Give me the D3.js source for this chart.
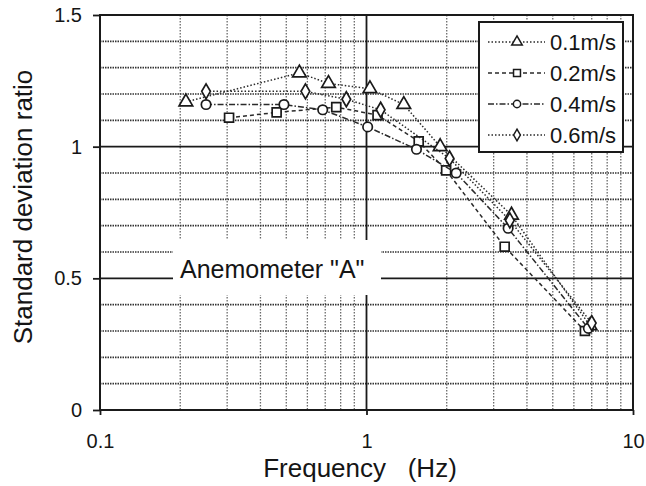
<!DOCTYPE html>
<head>
  <meta charset="utf-8">
  <script src="https://unpkg.com/d3@7/dist/d3.min.js"></script>
  <style>
    body {
      margin:0;
      background:#fff;
    }
    text {
      font-family: "Liberation Sans", Arial, sans-serif;
      fill: #151515;
    }
  </style>
</head>

<body>
  <svg width="646" height="486"></svg>
  <script>
    // values
    var seriesNames = ["0.1m/s", "0.2m/s", "0.4m/s", "0.6m/s"];
    var freq01  = [0.21, 0.56, 0.72, 1.03, 1.38, 1.89, 3.5, 6.9];
    var ratio01 = [1.17, 1.28, 1.24, 1.22, 1.16, 1.00, 0.74, 0.32];
    var freq02  = [0.305, 0.46, 0.77, 1.10, 1.57, 1.99, 3.3, 6.6];
    var ratio02 = [1.11, 1.13, 1.15, 1.12, 1.02, 0.91, 0.62, 0.30];
    var freq04  = [0.25, 0.49, 0.685, 1.01, 1.54, 2.17, 3.4, 6.8];
    var ratio04 = [1.16, 1.16, 1.14, 1.075, 0.99, 0.90, 0.69, 0.31];
    var freq06  = [0.25, 0.59, 0.84, 1.13, 2.05, 3.45, 7.0];
    var ratio06 = [1.21, 1.21, 1.18, 1.14, 0.955, 0.72, 0.33];
    var yTicks = [0, 0.5, 1, 1.5];
    var xTicks = [0.1, 1, 10];
    var xTickLabels = ["0.1", "1", "10"];

    var series = [
      {name: seriesNames[0], f: freq01, r: ratio01, sym: d3.symbolTriangle, size: 80, dash: "1.5,2"},
      {name: seriesNames[1], f: freq02, r: ratio02, sym: d3.symbolSquare, size: 80, dash: "4,3"},
      {name: seriesNames[2], f: freq04, r: ratio04, sym: d3.symbolCircle, size: 70, dash: "6,2,1.5,2"},
      {name: seriesNames[3], f: freq06, r: ratio06, sym: d3.symbolDiamond, size: 65, dash: "1.5,2"}
    ];

    var svg = d3.select("svg");
    // plot box (note: "top" is taken by window.top)
    var pLeft = 100, pRight = 633, pTop = 15, pBottom = 410;

    var x = d3.scaleLog().domain([0.1, 10]).range([pLeft, pRight]);
    var y = d3.scaleLinear().domain([0, 1.5]).range([pBottom, pTop]);

    // grid
    var minorY = d3.range(1, 15).map(function (i) { return i / 10; })
      .filter(function (v) { return Math.abs(v - 0.5) > 1e-6 && Math.abs(v - 1) > 1e-6; });
    var minorX = [];
    [0.1, 1].forEach(function (d) {
      for (var k = 2; k <= 9; k++) minorX.push(d * k);
    });

    svg.append("g").selectAll("line").data(minorX).enter().append("line")
      .attr("x1", function (d) { return x(d); }).attr("x2", function (d) { return x(d); })
      .attr("y1", pTop).attr("y2", pBottom)
      .attr("stroke", "#6a6a6a").attr("stroke-width", 1.3).attr("stroke-dasharray", "1.5,1.5");

    svg.append("g").selectAll("line").data(minorY).enter().append("line")
      .attr("x1", pLeft).attr("x2", pRight)
      .attr("y1", function (d) { return y(d); }).attr("y2", function (d) { return y(d); })
      .attr("stroke", "#333").attr("stroke-width", 1.7).attr("stroke-dasharray", "1.5,1");

    svg.append("g").selectAll("line").data([0.5, 1]).enter().append("line")
      .attr("x1", pLeft).attr("x2", pRight)
      .attr("y1", function (d) { return y(d); }).attr("y2", function (d) { return y(d); })
      .attr("stroke", "#1a1a1a").attr("stroke-width", 1.8);

    svg.append("line")
      .attr("x1", x(1)).attr("x2", x(1)).attr("y1", pTop).attr("y2", pBottom)
      .attr("stroke", "#1a1a1a").attr("stroke-width", 1.8);

    // frame
    svg.append("rect")
      .attr("x", pLeft).attr("y", pTop)
      .attr("width", pRight - pLeft).attr("height", pBottom - pTop)
      .attr("fill", "none").attr("stroke", "#1a1a1a").attr("stroke-width", 2);

    // axes
    var yAxis = d3.axisLeft(y).tickValues(yTicks).tickSize(7).tickPadding(11)
      .tickFormat(function (d) { return d3.format("")(d); });
    svg.append("g").attr("transform", "translate(" + pLeft + ",0)").call(yAxis)
      .call(function (g) {
        g.select(".domain").remove();
        g.selectAll("line").attr("stroke", "#1a1a1a").attr("stroke-width", 1.8);
        g.selectAll("text").attr("font-size", 20).style("font-family", "Liberation Sans, Arial");
      });

    var xAxis = d3.axisBottom(x).tickValues(xTicks).tickSize(5).tickPadding(19)
      .tickFormat(function (d, i) { return xTickLabels[i]; });
    svg.append("g").attr("transform", "translate(0," + pBottom + ")").call(xAxis)
      .call(function (g) {
        g.select(".domain").remove();
        g.selectAll("line").attr("stroke", "#1a1a1a").attr("stroke-width", 1.8);
        g.selectAll("text").attr("font-size", 20).style("font-family", "Liberation Sans, Arial");
      });

    // label box on the 0.5 line
    svg.append("rect")
      .attr("x", 173).attr("y", 240).attr("width", 208).attr("height", 55)
      .attr("fill", "#fff");
    svg.append("text")
      .attr("x", 180).attr("y", y(0.5))
      .attr("font-size", 25)
      .text("Anemometer \"A\"");

    // series
    var line = d3.line()
      .x(function (d) { return x(d[0]); })
      .y(function (d) { return y(d[1]); });

    series.forEach(function (s) {
      var pts = s.f.map(function (f, i) { return [f, s.r[i]]; });
      svg.append("path")
        .datum(pts)
        .attr("d", line)
        .attr("fill", "none")
        .attr("stroke", "#2a2a2a")
        .attr("stroke-width", 1.5)
        .attr("stroke-dasharray", s.dash);
      svg.append("g").selectAll("path").data(pts).enter().append("path")
        .attr("transform", function (d) { return "translate(" + x(d[0]) + "," + y(d[1]) + ")"; })
        .attr("d", d3.symbol().type(s.sym).size(s.size))
        .attr("fill", "#fff")
        .attr("stroke", "#1a1a1a")
        .attr("stroke-width", 1.7);
    });

    // legend
    var legend = svg.append("g");
    legend.append("rect")
      .attr("x", 479).attr("y", 22).attr("width", 144).attr("height", 130)
      .attr("fill", "#fff").attr("stroke", "#1a1a1a").attr("stroke-width", 2);
    series.forEach(function (s, i) {
      var ly = 42 + i * 31;
      legend.append("line")
        .attr("x1", 488).attr("x2", 545).attr("y1", ly).attr("y2", ly)
        .attr("stroke", "#2a2a2a").attr("stroke-width", 1.5)
        .attr("stroke-dasharray", s.dash);
      legend.append("path")
        .attr("transform", "translate(517," + ly + ")")
        .attr("d", d3.symbol().type(s.sym).size(s.size * 0.6))
        .attr("fill", "#fff").attr("stroke", "#1a1a1a").attr("stroke-width", 1.5);
      legend.append("text")
        .attr("x", 550).attr("y", ly).attr("dy", "0.36em")
        .attr("font-size", 22)
        .text(s.name);
    });

    // axis titles
    svg.append("text")
      .attr("x", 360).attr("y", 477)
      .attr("text-anchor", "middle")
      .attr("font-size", 26)
      .attr("xml:space", "preserve")
      .style("white-space", "pre")
      .text("Frequency   (Hz)");

    svg.append("text")
      .attr("transform", "translate(32,207) rotate(-90)")
      .attr("text-anchor", "middle")
      .attr("font-size", 26)
      .text("Standard deviation ratio");
  </script>
</body>
